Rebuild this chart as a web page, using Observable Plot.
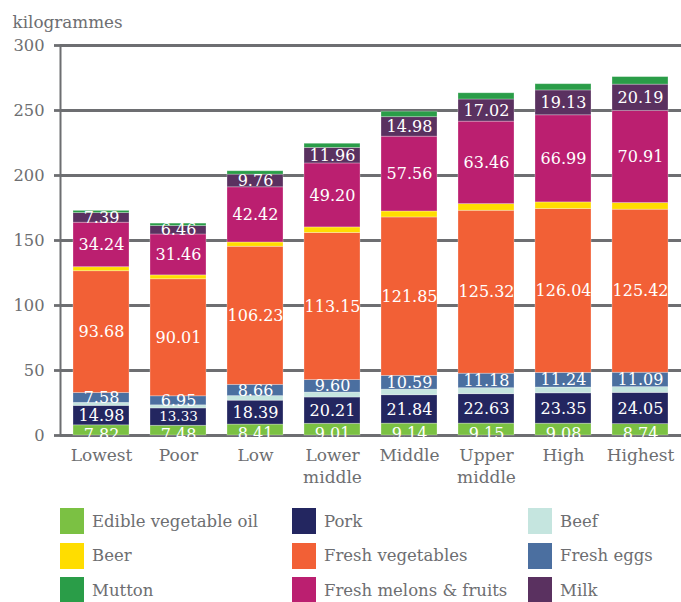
<!DOCTYPE html>
<html>
<head>
<meta charset="utf-8">
<script src="https://cdn.jsdelivr.net/npm/d3@7"></script>
<script src="https://cdn.jsdelivr.net/npm/@observablehq/plot@0.6"></script>
<style>
  html, body { margin: 0; padding: 0; background: #fff; }
  body { width: 681px; height: 602px; overflow: hidden; font-family: "DejaVu Serif", serif; }
  #legend { display: grid; grid-template-columns: 232px 236px auto; padding-left: 60px; margin-top: 9px; }
  .item { display: flex; align-items: center; height: 34.5px; }
  .sw { width: 24px; height: 26px; margin-right: 8px; flex: none; }
  .lb { font-size: 16.5px; color: #6d6e71; white-space: nowrap; }
</style>
</head>
<body>
<div id="chart"></div>
<div id="legend"></div>
<script>
const categories = ["Lowest", "Poor", "Low", "Lower middle", "Middle", "Upper middle", "High", "Highest"];
const seriesNames = ["Edible vegetable oil", "Pork", "Beef", "Fresh eggs", "Fresh vegetables", "Beer", "Fresh melons & fruits", "Milk", "Mutton"];
const seriesColors = ["#7bc143", "#232660", "#c5e5df", "#4b6fa0", "#f26036", "#ffdd00", "#bb1f70", "#5a3160", "#2a9d48"];
const legendOrder = ["Edible vegetable oil", "Pork", "Beef", "Beer", "Fresh vegetables", "Fresh eggs", "Mutton", "Fresh melons & fruits", "Milk"];
const labelledSeries = ["Pork", "Fresh eggs", "Fresh vegetables", "Fresh melons & fruits", "Milk"];
const bottomLabelled = ["Edible vegetable oil"];
const yTicks = [0, 50, 100, 150, 200, 250, 300];

const oil = [7.82, 7.48, 8.41, 9.01, 9.14, 9.15, 9.08, 8.74];
const pork = [14.98, 13.33, 18.39, 20.21, 21.84, 22.63, 23.35, 24.05];
const beef = [2.3, 2.4, 3.5, 3.8, 4.3, 4.6, 4.5, 4.4];
const eggs = [7.58, 6.95, 8.66, 9.60, 10.59, 11.18, 11.24, 11.09];
const vegetables = [93.68, 90.01, 106.23, 113.15, 121.85, 125.32, 126.04, 125.42];
const beer = [3.1, 3.0, 3.3, 4.3, 4.6, 5.1, 5.1, 5.1];
const fruits = [34.24, 31.46, 42.42, 49.20, 57.56, 63.46, 66.99, 70.91];
const milk = [7.39, 6.46, 9.76, 11.96, 14.98, 17.02, 19.13, 20.19];
const mutton = [1.7, 1.9, 2.6, 3.2, 4.2, 4.8, 4.8, 5.8];

const seriesValues = [oil, pork, beef, eggs, vegetables, beer, fruits, milk, mutton];
const data = [];
seriesNames.forEach((s, si) => {
  categories.forEach((c, ci) => {
    data.push({category: c, series: s, value: seriesValues[si][ci]});
  });
});

const gray = "#6d6e71";
// thinner pork segments get a slightly smaller label, as in the source
const labelSize = d => (d.series === "Pork" && d.value < 14) ? 13.5 : 16;
const labelMark = (names, dy) => Plot.text(data, Plot.stackY({
  x: "category", y: "value", z: "series", order: seriesNames,
  text: d => names.includes(d.series) ? d.value.toFixed(2) : null,
  fill: "white", fontSize: labelSize, dy
}));

const plot = Plot.plot({
  width: 681,
  height: 495,
  marginTop: 45,
  marginLeft: 60,
  marginRight: 0,
  marginBottom: 60,
  style: {fontFamily: "DejaVu Serif", fontSize: "16px", color: gray, background: "transparent"},
  x: {domain: categories, paddingInner: 0.27, paddingOuter: 0.15},
  y: {domain: [0, 300]},
  color: {domain: seriesNames, range: seriesColors},
  marks: [
    Plot.ruleY(yTicks, {stroke: gray, strokeWidth: 2.8, strokeOpacity: 1}),
    Plot.frame({anchor: "left", stroke: gray, strokeWidth: 2}),
    Plot.barY(data, {x: "category", y: "value", fill: "series", order: seriesNames, stroke: "white", strokeOpacity: 0.35, strokeWidth: 0.8}),
    labelMark(labelledSeries, 0),
    labelMark(bottomLabelled, 4),
    Plot.axisY({ticks: yTicks, tickSize: 6, tickPadding: 10, stroke: gray, strokeWidth: 2.8, strokeOpacity: 1, label: null, fontSize: 16.3, fill: gray}),
    Plot.axisX({tickSize: 0, tickPadding: 10, label: null, fontSize: 17, fill: gray, lineHeight: 1.3,
      tickFormat: d => d.replace(" ", "\n")}),
    Plot.text(["kilogrammes"], {frameAnchor: "top-left", dx: -48, dy: -29, textAnchor: "start", fontSize: 16.8, fill: gray})
  ]
});
document.getElementById("chart").appendChild(plot);

const color = plot.scale("color");
const legend = d3.select("#legend");
legendOrder.forEach(name => {
  const it = legend.append("div").attr("class", "item");
  it.append("div").attr("class", "sw").style("background", color.apply(name));
  it.append("div").attr("class", "lb").text(name);
});
</script>
</body>
</html>
